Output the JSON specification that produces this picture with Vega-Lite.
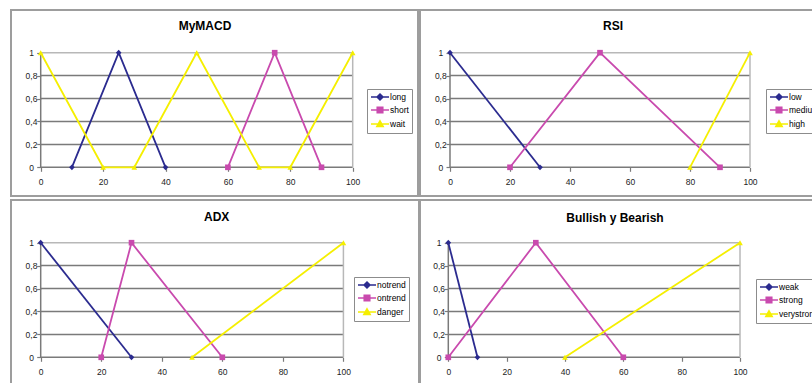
{
  "$schema": "https://vega.github.io/schema/vega-lite/v6.json",
  "padding": {"left": 10, "top": 9, "right": 0, "bottom": 0},
  "background": "white",
  "datasets": {
    "macd": [
      {"series": "long", "x": 10, "y": 0}, {"series": "long", "x": 25, "y": 1}, {"series": "long", "x": 40, "y": 0},
      {"series": "short", "x": 60, "y": 0}, {"series": "short", "x": 75, "y": 1}, {"series": "short", "x": 90, "y": 0},
      {"series": "wait", "x": 0, "y": 1}, {"series": "wait", "x": 20, "y": 0}, {"series": "wait", "x": 30, "y": 0},
      {"series": "wait", "x": 50, "y": 1}, {"series": "wait", "x": 70, "y": 0}, {"series": "wait", "x": 80, "y": 0},
      {"series": "wait", "x": 100, "y": 1}
    ],
    "rsi": [
      {"series": "low", "x": 0, "y": 1}, {"series": "low", "x": 30, "y": 0},
      {"series": "medium", "x": 20, "y": 0}, {"series": "medium", "x": 50, "y": 1}, {"series": "medium", "x": 90, "y": 0},
      {"series": "high", "x": 80, "y": 0}, {"series": "high", "x": 100, "y": 1}
    ],
    "adx": [
      {"series": "notrend", "x": 0, "y": 1}, {"series": "notrend", "x": 30, "y": 0},
      {"series": "ontrend", "x": 20, "y": 0}, {"series": "ontrend", "x": 30, "y": 1}, {"series": "ontrend", "x": 60, "y": 0},
      {"series": "danger", "x": 50, "y": 0}, {"series": "danger", "x": 100, "y": 1}
    ],
    "bull": [
      {"series": "weak", "x": 0, "y": 1}, {"series": "weak", "x": 10, "y": 0},
      {"series": "strong", "x": 0, "y": 0}, {"series": "strong", "x": 30, "y": 1}, {"series": "strong", "x": 60, "y": 0},
      {"series": "verystrong", "x": 40, "y": 0}, {"series": "verystrong", "x": 100, "y": 1}
    ],
    "gridlines": [{"y": 0}, {"y": 0.2}, {"y": 0.4}, {"y": 0.6}, {"y": 0.8}],
    "topline": [{"y": 1}],
    "leftline": [{"x": 0}],
    "rightline": [{"x": 100}]
  },
  "bounds": "flush",
  "columns": 2,
  "spacing": {"row": 4, "column": 1},
  "resolve": {
    "scale": {"x": "independent", "y": "independent", "color": "independent", "shape": "independent"},
    "axis": {"x": "independent", "y": "independent"},
    "legend": {"color": "independent", "shape": "independent"}
  },
  "concat": [
    {
      "name": "macd",
      "width": 407, "height": 186,
      "title": {"text": "MyMACD", "dx": -9.5, "dy": 27},
      "layer": [
        {"data": {"name": "gridlines"}, "mark": {"type": "rule", "color": "#7a7a7a", "strokeWidth": 1.5},
         "encoding": {
           "x": {"datum": 0, "type": "quantitative", "scale": {"domain": [-9.52, 120.93], "nice": false, "zero": false}, "axis": {"values": [0, 20, 40, 60, 80, 100], "offset": -28.7, "title": null}}, "x2": {"datum": 100},
           "y": {"field": "y", "type": "quantitative", "scale": {"domain": [-0.2504, 1.3726], "nice": false, "zero": false}, "axis": {"values": [0, 0.2, 0.4, 0.6, 0.8, 1], "offset": -29.7, "title": null, "labelExpr": "replace(format(datum.value, '.1~f'), '.', ',')"}}}},
        {"data": {"name": "topline"}, "mark": {"type": "rule", "color": "#b8b8b8", "strokeWidth": 1.5},
         "encoding": {
           "x": {"datum": 0, "type": "quantitative", "scale": {"domain": [-9.52, 120.93], "nice": false, "zero": false}, "axis": {"values": [0, 20, 40, 60, 80, 100], "offset": -28.7, "title": null}}, "x2": {"datum": 100},
           "y": {"field": "y", "type": "quantitative", "scale": {"domain": [-0.2504, 1.3726], "nice": false, "zero": false}, "axis": {"values": [0, 0.2, 0.4, 0.6, 0.8, 1], "offset": -29.7, "title": null, "labelExpr": "replace(format(datum.value, '.1~f'), '.', ',')"}}}},
        {"data": {"name": "leftline"}, "mark": {"type": "rule", "color": "#7a7a7a", "strokeWidth": 1.5},
         "encoding": {
           "x": {"field": "x", "type": "quantitative", "scale": {"domain": [-9.52, 120.93], "nice": false, "zero": false}, "axis": {"values": [0, 20, 40, 60, 80, 100], "offset": -28.7, "title": null}},
           "y": {"datum": 0, "type": "quantitative", "scale": {"domain": [-0.2504, 1.3726], "nice": false, "zero": false}, "axis": {"values": [0, 0.2, 0.4, 0.6, 0.8, 1], "offset": -29.7, "title": null, "labelExpr": "replace(format(datum.value, '.1~f'), '.', ',')"}}, "y2": {"datum": 1}}},
        {"data": {"name": "rightline"}, "mark": {"type": "rule", "color": "#b8b8b8", "strokeWidth": 1.5},
         "encoding": {
           "x": {"field": "x", "type": "quantitative", "scale": {"domain": [-9.52, 120.93], "nice": false, "zero": false}, "axis": {"values": [0, 20, 40, 60, 80, 100], "offset": -28.7, "title": null}},
           "y": {"datum": 0, "type": "quantitative", "scale": {"domain": [-0.2504, 1.3726], "nice": false, "zero": false}, "axis": {"values": [0, 0.2, 0.4, 0.6, 0.8, 1], "offset": -29.7, "title": null, "labelExpr": "replace(format(datum.value, '.1~f'), '.', ',')"}}, "y2": {"datum": 1}}},
        {"data": {"name": "macd"}, "mark": {"type": "line", "strokeWidth": 1.8},
         "encoding": {
           "x": {"field": "x", "type": "quantitative", "scale": {"domain": [-9.52, 120.93], "nice": false, "zero": false}, "axis": {"values": [0, 20, 40, 60, 80, 100], "offset": -28.7, "title": null}},
           "y": {"field": "y", "type": "quantitative", "scale": {"domain": [-0.2504, 1.3726], "nice": false, "zero": false}, "axis": {"values": [0, 0.2, 0.4, 0.6, 0.8, 1], "offset": -29.7, "title": null, "labelExpr": "replace(format(datum.value, '.1~f'), '.', ',')"}},
           "color": {"field": "series", "type": "nominal", "scale": {"domain": ["long", "short", "wait"], "range": ["#2b2b8f", "#c94aae", "#f5ef00"]},
           "legend": {"title": null, "orient": "none", "legendX": 356, "legendY": 79,
             "encode": {"symbols": {"update": {
               "shape": {"signal": "datum.index === 0 ? 'M-1,0H3.5M1.25,-0.75L2,0L1.25,0.75L0.5,0Z' : datum.index === 1 ? 'M-1,0H3.5M0.55,-0.7H1.95V0.7H0.55Z' : 'M-1,0H3.5M1.25,-0.8L2.05,0.65L0.45,0.65Z'"},
               "fill": {"signal": "datum.index === 0 ? '#2b2b8f' : datum.index === 1 ? '#c94aae' : '#f5ef00'"},
               "stroke": {"signal": "datum.index === 0 ? '#2b2b8f' : datum.index === 1 ? '#c94aae' : '#f5ef00'"},
               "strokeWidth": {"value": 1.5}, "opacity": {"value": 1}}}}}}}},
        {"data": {"name": "macd"}, "mark": {"type": "point", "filled": true, "size": 32, "opacity": 1},
         "encoding": {
           "x": {"field": "x", "type": "quantitative", "scale": {"domain": [-9.52, 120.93], "nice": false, "zero": false}, "axis": {"values": [0, 20, 40, 60, 80, 100], "offset": -28.7, "title": null}},
           "y": {"field": "y", "type": "quantitative", "scale": {"domain": [-0.2504, 1.3726], "nice": false, "zero": false}, "axis": {"values": [0, 0.2, 0.4, 0.6, 0.8, 1], "offset": -29.7, "title": null, "labelExpr": "replace(format(datum.value, '.1~f'), '.', ',')"}},
           "color": {"field": "series", "type": "nominal", "scale": {"domain": ["long", "short", "wait"], "range": ["#2b2b8f", "#c94aae", "#f5ef00"]}},
           "shape": {"field": "series", "type": "nominal", "scale": {"domain": ["long", "short", "wait", "-"], "range": ["diamond", "square", "triangle-up", "circle"]}, "legend": null}}}
      ]
    },
    {
      "name": "rsi",
      "width": 410, "height": 186,
      "title": {"text": "RSI", "dx": -12, "dy": 27},
      "layer": [
        {"data": {"name": "gridlines"}, "mark": {"type": "rule", "color": "#7a7a7a", "strokeWidth": 1.5},
         "encoding": {
           "x": {"datum": 0, "type": "quantitative", "scale": {"domain": [-10, 126.67], "nice": false, "zero": false}, "axis": {"values": [0, 20, 40, 60, 80, 100], "offset": -28.7, "title": null}}, "x2": {"datum": 100},
           "y": {"field": "y", "type": "quantitative", "scale": {"domain": [-0.2504, 1.3726], "nice": false, "zero": false}, "axis": {"values": [0, 0.2, 0.4, 0.6, 0.8, 1], "offset": -30, "title": null, "labelExpr": "replace(format(datum.value, '.1~f'), '.', ',')"}}}},
        {"data": {"name": "topline"}, "mark": {"type": "rule", "color": "#b8b8b8", "strokeWidth": 1.5},
         "encoding": {
           "x": {"datum": 0, "type": "quantitative", "scale": {"domain": [-10, 126.67], "nice": false, "zero": false}, "axis": {"values": [0, 20, 40, 60, 80, 100], "offset": -28.7, "title": null}}, "x2": {"datum": 100},
           "y": {"field": "y", "type": "quantitative", "scale": {"domain": [-0.2504, 1.3726], "nice": false, "zero": false}, "axis": {"values": [0, 0.2, 0.4, 0.6, 0.8, 1], "offset": -30, "title": null, "labelExpr": "replace(format(datum.value, '.1~f'), '.', ',')"}}}},
        {"data": {"name": "leftline"}, "mark": {"type": "rule", "color": "#7a7a7a", "strokeWidth": 1.5},
         "encoding": {
           "x": {"field": "x", "type": "quantitative", "scale": {"domain": [-10, 126.67], "nice": false, "zero": false}, "axis": {"values": [0, 20, 40, 60, 80, 100], "offset": -28.7, "title": null}},
           "y": {"datum": 0, "type": "quantitative", "scale": {"domain": [-0.2504, 1.3726], "nice": false, "zero": false}, "axis": {"values": [0, 0.2, 0.4, 0.6, 0.8, 1], "offset": -30, "title": null, "labelExpr": "replace(format(datum.value, '.1~f'), '.', ',')"}}, "y2": {"datum": 1}}},
        {"data": {"name": "rightline"}, "mark": {"type": "rule", "color": "#b8b8b8", "strokeWidth": 1.5},
         "encoding": {
           "x": {"field": "x", "type": "quantitative", "scale": {"domain": [-10, 126.67], "nice": false, "zero": false}, "axis": {"values": [0, 20, 40, 60, 80, 100], "offset": -28.7, "title": null}},
           "y": {"datum": 0, "type": "quantitative", "scale": {"domain": [-0.2504, 1.3726], "nice": false, "zero": false}, "axis": {"values": [0, 0.2, 0.4, 0.6, 0.8, 1], "offset": -30, "title": null, "labelExpr": "replace(format(datum.value, '.1~f'), '.', ',')"}}, "y2": {"datum": 1}}},
        {"data": {"name": "rsi"}, "mark": {"type": "line", "strokeWidth": 1.8},
         "encoding": {
           "x": {"field": "x", "type": "quantitative", "scale": {"domain": [-10, 126.67], "nice": false, "zero": false}, "axis": {"values": [0, 20, 40, 60, 80, 100], "offset": -28.7, "title": null}},
           "y": {"field": "y", "type": "quantitative", "scale": {"domain": [-0.2504, 1.3726], "nice": false, "zero": false}, "axis": {"values": [0, 0.2, 0.4, 0.6, 0.8, 1], "offset": -30, "title": null, "labelExpr": "replace(format(datum.value, '.1~f'), '.', ',')"}},
           "color": {"field": "series", "type": "nominal", "scale": {"domain": ["low", "medium", "high"], "range": ["#2b2b8f", "#c94aae", "#f5ef00"]},
           "legend": {"title": null, "orient": "none", "legendX": 346, "legendY": 79,
             "encode": {"symbols": {"update": {
               "shape": {"signal": "datum.index === 0 ? 'M-1,0H3.5M1.25,-0.75L2,0L1.25,0.75L0.5,0Z' : datum.index === 1 ? 'M-1,0H3.5M0.55,-0.7H1.95V0.7H0.55Z' : 'M-1,0H3.5M1.25,-0.8L2.05,0.65L0.45,0.65Z'"},
               "fill": {"signal": "datum.index === 0 ? '#2b2b8f' : datum.index === 1 ? '#c94aae' : '#f5ef00'"},
               "stroke": {"signal": "datum.index === 0 ? '#2b2b8f' : datum.index === 1 ? '#c94aae' : '#f5ef00'"},
               "strokeWidth": {"value": 1.5}, "opacity": {"value": 1}}}}}}}},
        {"data": {"name": "rsi"}, "mark": {"type": "point", "filled": true, "size": 32, "opacity": 1},
         "encoding": {
           "x": {"field": "x", "type": "quantitative", "scale": {"domain": [-10, 126.67], "nice": false, "zero": false}, "axis": {"values": [0, 20, 40, 60, 80, 100], "offset": -28.7, "title": null}},
           "y": {"field": "y", "type": "quantitative", "scale": {"domain": [-0.2504, 1.3726], "nice": false, "zero": false}, "axis": {"values": [0, 0.2, 0.4, 0.6, 0.8, 1], "offset": -30, "title": null, "labelExpr": "replace(format(datum.value, '.1~f'), '.', ',')"}},
           "color": {"field": "series", "type": "nominal", "scale": {"domain": ["low", "medium", "high"], "range": ["#2b2b8f", "#c94aae", "#f5ef00"]}},
           "shape": {"field": "series", "type": "nominal", "scale": {"domain": ["low", "medium", "high", "-"], "range": ["diamond", "square", "triangle-up", "circle"]}, "legend": null}}}
      ]
    },
    {
      "name": "adx",
      "width": 408, "height": 190,
      "title": {"text": "ADX", "dx": 1.7, "dy": 28},
      "layer": [
        {"data": {"name": "gridlines"}, "mark": {"type": "rule", "color": "#7a7a7a", "strokeWidth": 1.5},
         "encoding": {
           "x": {"datum": 0, "type": "quantitative", "scale": {"domain": [-9.81, 124.97], "nice": false, "zero": false}, "axis": {"values": [0, 20, 40, 60, 80, 100], "offset": -32.7, "title": null}}, "x2": {"datum": 100},
           "y": {"field": "y", "type": "quantitative", "scale": {"domain": [-0.2853, 1.3726], "nice": false, "zero": false}, "axis": {"values": [0, 0.2, 0.4, 0.6, 0.8, 1], "offset": -29.7, "title": null, "labelExpr": "replace(format(datum.value, '.1~f'), '.', ',')"}}}},
        {"data": {"name": "topline"}, "mark": {"type": "rule", "color": "#b8b8b8", "strokeWidth": 1.5},
         "encoding": {
           "x": {"datum": 0, "type": "quantitative", "scale": {"domain": [-9.81, 124.97], "nice": false, "zero": false}, "axis": {"values": [0, 20, 40, 60, 80, 100], "offset": -32.7, "title": null}}, "x2": {"datum": 100},
           "y": {"field": "y", "type": "quantitative", "scale": {"domain": [-0.2853, 1.3726], "nice": false, "zero": false}, "axis": {"values": [0, 0.2, 0.4, 0.6, 0.8, 1], "offset": -29.7, "title": null, "labelExpr": "replace(format(datum.value, '.1~f'), '.', ',')"}}}},
        {"data": {"name": "leftline"}, "mark": {"type": "rule", "color": "#7a7a7a", "strokeWidth": 1.5},
         "encoding": {
           "x": {"field": "x", "type": "quantitative", "scale": {"domain": [-9.81, 124.97], "nice": false, "zero": false}, "axis": {"values": [0, 20, 40, 60, 80, 100], "offset": -32.7, "title": null}},
           "y": {"datum": 0, "type": "quantitative", "scale": {"domain": [-0.2853, 1.3726], "nice": false, "zero": false}, "axis": {"values": [0, 0.2, 0.4, 0.6, 0.8, 1], "offset": -29.7, "title": null, "labelExpr": "replace(format(datum.value, '.1~f'), '.', ',')"}}, "y2": {"datum": 1}}},
        {"data": {"name": "rightline"}, "mark": {"type": "rule", "color": "#b8b8b8", "strokeWidth": 1.5},
         "encoding": {
           "x": {"field": "x", "type": "quantitative", "scale": {"domain": [-9.81, 124.97], "nice": false, "zero": false}, "axis": {"values": [0, 20, 40, 60, 80, 100], "offset": -32.7, "title": null}},
           "y": {"datum": 0, "type": "quantitative", "scale": {"domain": [-0.2853, 1.3726], "nice": false, "zero": false}, "axis": {"values": [0, 0.2, 0.4, 0.6, 0.8, 1], "offset": -29.7, "title": null, "labelExpr": "replace(format(datum.value, '.1~f'), '.', ',')"}}, "y2": {"datum": 1}}},
        {"data": {"name": "adx"}, "mark": {"type": "line", "strokeWidth": 1.8},
         "encoding": {
           "x": {"field": "x", "type": "quantitative", "scale": {"domain": [-9.81, 124.97], "nice": false, "zero": false}, "axis": {"values": [0, 20, 40, 60, 80, 100], "offset": -32.7, "title": null}},
           "y": {"field": "y", "type": "quantitative", "scale": {"domain": [-0.2853, 1.3726], "nice": false, "zero": false}, "axis": {"values": [0, 0.2, 0.4, 0.6, 0.8, 1], "offset": -29.7, "title": null, "labelExpr": "replace(format(datum.value, '.1~f'), '.', ',')"}},
           "color": {"field": "series", "type": "nominal", "scale": {"domain": ["notrend", "ontrend", "danger"], "range": ["#2b2b8f", "#c94aae", "#f5ef00"]},
           "legend": {"title": null, "orient": "none", "legendX": 343, "legendY": 77,
             "encode": {"symbols": {"update": {
               "shape": {"signal": "datum.index === 0 ? 'M-1,0H3.5M1.25,-0.75L2,0L1.25,0.75L0.5,0Z' : datum.index === 1 ? 'M-1,0H3.5M0.55,-0.7H1.95V0.7H0.55Z' : 'M-1,0H3.5M1.25,-0.8L2.05,0.65L0.45,0.65Z'"},
               "fill": {"signal": "datum.index === 0 ? '#2b2b8f' : datum.index === 1 ? '#c94aae' : '#f5ef00'"},
               "stroke": {"signal": "datum.index === 0 ? '#2b2b8f' : datum.index === 1 ? '#c94aae' : '#f5ef00'"},
               "strokeWidth": {"value": 1.5}, "opacity": {"value": 1}}}}}}}},
        {"data": {"name": "adx"}, "mark": {"type": "point", "filled": true, "size": 32, "opacity": 1},
         "encoding": {
           "x": {"field": "x", "type": "quantitative", "scale": {"domain": [-9.81, 124.97], "nice": false, "zero": false}, "axis": {"values": [0, 20, 40, 60, 80, 100], "offset": -32.7, "title": null}},
           "y": {"field": "y", "type": "quantitative", "scale": {"domain": [-0.2853, 1.3726], "nice": false, "zero": false}, "axis": {"values": [0, 0.2, 0.4, 0.6, 0.8, 1], "offset": -29.7, "title": null, "labelExpr": "replace(format(datum.value, '.1~f'), '.', ',')"}},
           "color": {"field": "series", "type": "nominal", "scale": {"domain": ["notrend", "ontrend", "danger"], "range": ["#2b2b8f", "#c94aae", "#f5ef00"]}},
           "shape": {"field": "series", "type": "nominal", "scale": {"domain": ["notrend", "ontrend", "danger", "-"], "range": ["diamond", "square", "triangle-up", "circle"]}, "legend": null}}}
      ]
    },
    {
      "name": "bull",
      "width": 410, "height": 190,
      "title": {"text": "Bullish y Bearish", "dx": -10, "dy": 29},
      "layer": [
        {"data": {"name": "gridlines"}, "mark": {"type": "rule", "color": "#7a7a7a", "strokeWidth": 1.5},
         "encoding": {
           "x": {"datum": 0, "type": "quantitative", "scale": {"domain": [-9.7, 130.85], "nice": false, "zero": false}, "axis": {"values": [0, 20, 40, 60, 80, 100], "offset": -32.7, "title": null}}, "x2": {"datum": 100},
           "y": {"field": "y", "type": "quantitative", "scale": {"domain": [-0.2853, 1.3726], "nice": false, "zero": false}, "axis": {"values": [0, 0.2, 0.4, 0.6, 0.8, 1], "offset": -28.3, "title": null, "labelExpr": "replace(format(datum.value, '.1~f'), '.', ',')"}}}},
        {"data": {"name": "topline"}, "mark": {"type": "rule", "color": "#b8b8b8", "strokeWidth": 1.5},
         "encoding": {
           "x": {"datum": 0, "type": "quantitative", "scale": {"domain": [-9.7, 130.85], "nice": false, "zero": false}, "axis": {"values": [0, 20, 40, 60, 80, 100], "offset": -32.7, "title": null}}, "x2": {"datum": 100},
           "y": {"field": "y", "type": "quantitative", "scale": {"domain": [-0.2853, 1.3726], "nice": false, "zero": false}, "axis": {"values": [0, 0.2, 0.4, 0.6, 0.8, 1], "offset": -28.3, "title": null, "labelExpr": "replace(format(datum.value, '.1~f'), '.', ',')"}}}},
        {"data": {"name": "leftline"}, "mark": {"type": "rule", "color": "#7a7a7a", "strokeWidth": 1.5},
         "encoding": {
           "x": {"field": "x", "type": "quantitative", "scale": {"domain": [-9.7, 130.85], "nice": false, "zero": false}, "axis": {"values": [0, 20, 40, 60, 80, 100], "offset": -32.7, "title": null}},
           "y": {"datum": 0, "type": "quantitative", "scale": {"domain": [-0.2853, 1.3726], "nice": false, "zero": false}, "axis": {"values": [0, 0.2, 0.4, 0.6, 0.8, 1], "offset": -28.3, "title": null, "labelExpr": "replace(format(datum.value, '.1~f'), '.', ',')"}}, "y2": {"datum": 1}}},
        {"data": {"name": "rightline"}, "mark": {"type": "rule", "color": "#b8b8b8", "strokeWidth": 1.5},
         "encoding": {
           "x": {"field": "x", "type": "quantitative", "scale": {"domain": [-9.7, 130.85], "nice": false, "zero": false}, "axis": {"values": [0, 20, 40, 60, 80, 100], "offset": -32.7, "title": null}},
           "y": {"datum": 0, "type": "quantitative", "scale": {"domain": [-0.2853, 1.3726], "nice": false, "zero": false}, "axis": {"values": [0, 0.2, 0.4, 0.6, 0.8, 1], "offset": -28.3, "title": null, "labelExpr": "replace(format(datum.value, '.1~f'), '.', ',')"}}, "y2": {"datum": 1}}},
        {"data": {"name": "bull"}, "mark": {"type": "line", "strokeWidth": 1.8},
         "encoding": {
           "x": {"field": "x", "type": "quantitative", "scale": {"domain": [-9.7, 130.85], "nice": false, "zero": false}, "axis": {"values": [0, 20, 40, 60, 80, 100], "offset": -32.7, "title": null}},
           "y": {"field": "y", "type": "quantitative", "scale": {"domain": [-0.2853, 1.3726], "nice": false, "zero": false}, "axis": {"values": [0, 0.2, 0.4, 0.6, 0.8, 1], "offset": -28.3, "title": null, "labelExpr": "replace(format(datum.value, '.1~f'), '.', ',')"}},
           "color": {"field": "series", "type": "nominal", "scale": {"domain": ["weak", "strong", "verystrong"], "range": ["#2b2b8f", "#c94aae", "#f5ef00"]},
           "legend": {"title": null, "orient": "none", "legendX": 336, "legendY": 79,
             "encode": {"symbols": {"update": {
               "shape": {"signal": "datum.index === 0 ? 'M-1,0H3.5M1.25,-0.75L2,0L1.25,0.75L0.5,0Z' : datum.index === 1 ? 'M-1,0H3.5M0.55,-0.7H1.95V0.7H0.55Z' : 'M-1,0H3.5M1.25,-0.8L2.05,0.65L0.45,0.65Z'"},
               "fill": {"signal": "datum.index === 0 ? '#2b2b8f' : datum.index === 1 ? '#c94aae' : '#f5ef00'"},
               "stroke": {"signal": "datum.index === 0 ? '#2b2b8f' : datum.index === 1 ? '#c94aae' : '#f5ef00'"},
               "strokeWidth": {"value": 1.5}, "opacity": {"value": 1}}}}}}}},
        {"data": {"name": "bull"}, "mark": {"type": "point", "filled": true, "size": 32, "opacity": 1},
         "encoding": {
           "x": {"field": "x", "type": "quantitative", "scale": {"domain": [-9.7, 130.85], "nice": false, "zero": false}, "axis": {"values": [0, 20, 40, 60, 80, 100], "offset": -32.7, "title": null}},
           "y": {"field": "y", "type": "quantitative", "scale": {"domain": [-0.2853, 1.3726], "nice": false, "zero": false}, "axis": {"values": [0, 0.2, 0.4, 0.6, 0.8, 1], "offset": -28.3, "title": null, "labelExpr": "replace(format(datum.value, '.1~f'), '.', ',')"}},
           "color": {"field": "series", "type": "nominal", "scale": {"domain": ["weak", "strong", "verystrong"], "range": ["#2b2b8f", "#c94aae", "#f5ef00"]}},
           "shape": {"field": "series", "type": "nominal", "scale": {"domain": ["weak", "strong", "verystrong", "-"], "range": ["diamond", "square", "triangle-up", "circle"]}, "legend": null}}}
      ]
    }
  ],
  "config": {
    "font": "Liberation Sans",
    "view": {"stroke": "#9d9d9d", "strokeWidth": 2},
    "title": {"font": "Liberation Sans", "fontSize": 12, "fontWeight": "bold", "color": "#000000", "baseline": "middle", "offset": 0, "anchor": "middle", "frame": "group"},
    "axis": {"domain": false, "grid": false, "ticks": true, "tickSize": 4, "tickColor": "#7a7a7a", "tickWidth": 1.2,
             "labelFont": "Liberation Sans", "labelFontSize": 8.5, "labelColor": "#222222"},
    "axisX": {"labelBaseline": "middle", "labelPadding": 9.7, "labelAlign": "center"},
    "axisY": {"labelAlign": "center", "labelBaseline": "middle", "labelPadding": 5.7},
    "legend": {"strokeColor": "#8c8c8c", "strokeWidth": 1, "fillColor": "#ffffff", "padding": 3,
               "labelFont": "Liberation Sans", "labelFontSize": 8.5, "labelColor": "#000000",
               "symbolSize": 64, "symbolStrokeWidth": 1.5, "labelOffset": 10, "rowPadding": 1}
  }
}
